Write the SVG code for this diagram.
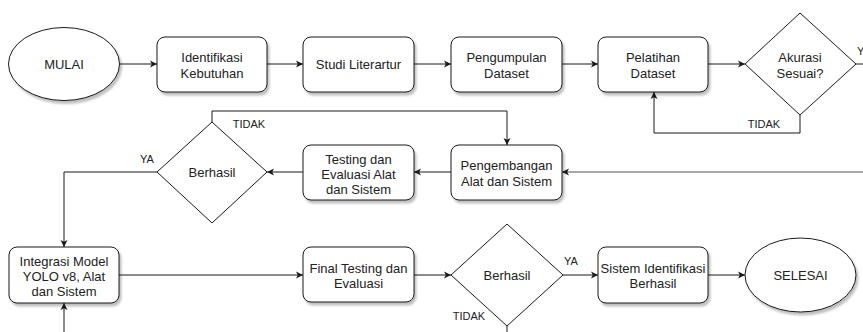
<svg xmlns="http://www.w3.org/2000/svg" width="863" height="332" viewBox="0 0 863 332">
<defs>
<filter id="sh" x="-10%" y="-10%" width="130%" height="140%">
<feDropShadow dx="2" dy="3" stdDeviation="1.2" flood-color="#000" flood-opacity="0.25"/>
</filter>
<marker id="ar" markerUnits="userSpaceOnUse" markerWidth="8" markerHeight="8" refX="7" refY="4" orient="auto">
<path d="M0,0.5 L7,4 L0,7.5 L1.8,4 Z" fill="#1a1a1a"/>
</marker>
</defs>
<style>
.box{fill:#fff;stroke:#1a1a1a;stroke-width:1;filter:url(#sh)}
.dia{fill:#fff;stroke:#1a1a1a;stroke-width:1}
.t{font-family:"Liberation Sans",Arial,sans-serif;font-size:13px;fill:#222;text-anchor:middle}
.l{font-family:"Liberation Sans",Arial,sans-serif;font-size:11px;fill:#222;text-anchor:middle}
.c{fill:none;stroke:#1a1a1a;stroke-width:1}
.a{marker-end:url(#ar)}
</style>
<rect width="863" height="332" fill="#fff"/>
<g id="connectors">
<path class="c a" d="M119.5,64 H157"/>
<path class="c a" d="M267,64 H303"/>
<path class="c a" d="M414,64 H451"/>
<path class="c a" d="M562,64 H598"/>
<path class="c a" d="M708,64 H745"/>
<path class="c" d="M856,64 H863"/>
<path class="c a" d="M800,115 V133 H654 V92"/>
<path class="c a" d="M863,172 H562" style="stroke:#555"/>
<path class="c a" d="M451,172 H414"/>
<path class="c a" d="M303,172 H267"/>
<path class="c a" d="M212,122 V111 H507 V145"/>
<path class="c a" d="M157,172 H64 V247"/>
<path class="c a" d="M64,332 V303"/>
<path class="c a" d="M119,275 H303"/>
<path class="c a" d="M414,275 H451"/>
<path class="c a" d="M563,275 H598"/>
<path class="c a" d="M708,275 H745"/>
<path class="c" d="M507,326 V332"/>
<text class="l" x="857" y="55" style="text-anchor:start">YA</text>
<text class="l" x="764" y="128">TIDAK</text>
<text class="l" x="249" y="128">TIDAK</text>
<text class="l" x="147" y="163">YA</text>
<text class="l" x="469" y="320">TIDAK</text>
<text class="l" x="571" y="265">YA</text>
</g>
<g id="mulai">
<ellipse class="box" cx="64" cy="64" rx="55.5" ry="36.5"/>
<text class="t" x="64" y="68.5">MULAI</text>
</g>
<g id="identifikasi">
<rect class="box" x="157" y="37" width="110" height="55" rx="8"/>
<text class="t" x="212" y="62">Identifikasi</text>
<text class="t" x="212" y="77.5">Kebutuhan</text>
</g>
<g id="studi">
<rect class="box" x="303" y="37" width="111" height="55" rx="8"/>
<text class="t" x="358.5" y="68.5">Studi Literartur</text>
</g>
<g id="pengumpulan">
<rect class="box" x="451" y="37" width="111" height="55" rx="8"/>
<text class="t" x="506.5" y="62">Pengumpulan</text>
<text class="t" x="506.5" y="77.5">Dataset</text>
</g>
<g id="pelatihan">
<rect class="box" x="598" y="37" width="110" height="55" rx="8"/>
<text class="t" x="653" y="62">Pelatihan</text>
<text class="t" x="653" y="77.5">Dataset</text>
</g>
<g id="akurasi">
<path class="dia" d="M800,13 L856,64 L800,115 L745,64 Z"/>
<text class="t" x="800" y="62">Akurasi</text>
<text class="t" x="800" y="77.5">Sesuai?</text>
</g>
<g id="pengembangan">
<rect class="box" x="451" y="145" width="111" height="55" rx="8"/>
<text class="t" x="506.5" y="170">Pengembangan</text>
<text class="t" x="506.5" y="185.5">Alat dan Sistem</text>
</g>
<g id="testing">
<rect class="box" x="303" y="145" width="111" height="55" rx="8"/>
<text class="t" x="358.5" y="163.5">Testing dan</text>
<text class="t" x="358.5" y="178.5">Evaluasi Alat</text>
<text class="t" x="358.5" y="193.5">dan Sistem</text>
</g>
<g id="berhasil1">
<path class="dia" d="M212,122 L267,172 L212,223 L157,172 Z"/>
<text class="t" x="212" y="176.5">Berhasil</text>
</g>
<g id="integrasi">
<rect class="box" x="9" y="247" width="110" height="56" rx="8"/>
<text class="t" x="64" y="266">Integrasi Model</text>
<text class="t" x="64" y="281">YOLO v8, Alat</text>
<text class="t" x="64" y="296">dan Sistem</text>
</g>
<g id="final">
<rect class="box" x="303" y="247" width="111" height="55" rx="8"/>
<text class="t" x="358.5" y="272.5">Final Testing dan</text>
<text class="t" x="358.5" y="288">Evaluasi</text>
</g>
<g id="berhasil2">
<path class="dia" d="M507,224 L563,275 L507,326 L451,275 Z"/>
<text class="t" x="507" y="279.5">Berhasil</text>
</g>
<g id="sistem">
<rect class="box" x="598" y="247" width="110" height="56" rx="8"/>
<text class="t" x="653" y="272.5">Sistem Identifikasi</text>
<text class="t" x="653" y="288">Berhasil</text>
</g>
<g id="selesai">
<ellipse class="box" cx="800.5" cy="275" rx="55.5" ry="37"/>
<text class="t" x="800.5" y="279.5">SELESAI</text>
</g>
</svg>
